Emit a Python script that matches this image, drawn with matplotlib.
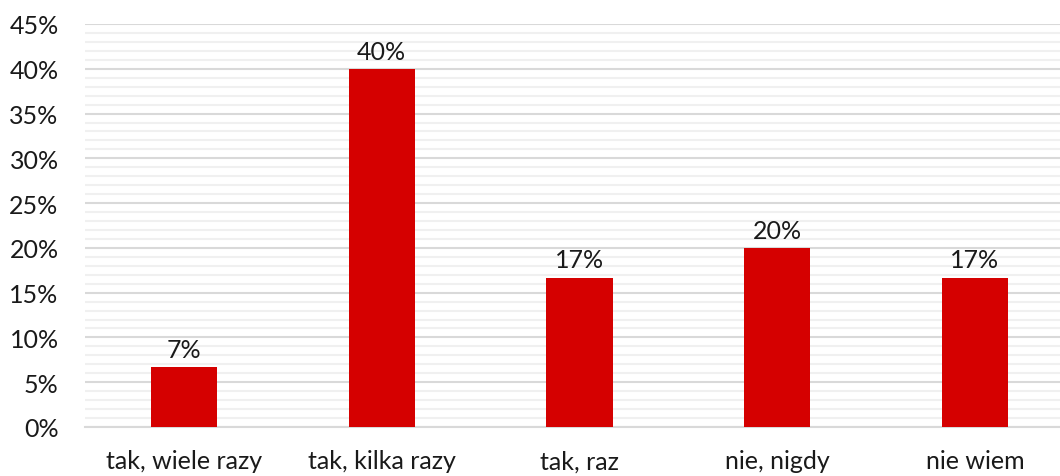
import numpy as np
import matplotlib.pyplot as plt
from matplotlib.ticker import MultipleLocator, FuncFormatter

categories = ["tak, wiele razy", "tak, kilka razy", "tak, raz", "nie, nigdy", "nie wiem"]
values = [6.67, 40.0, 16.67, 20.0, 16.67]

plt.rcParams['font.family'] = ['Lato', 'DejaVu Sans']

fig = plt.figure(figsize=(10.6, 4.77), dpi=100)
ax = fig.add_axes([85 / 1060, 1 - 428 / 477, 1 - 85 / 1060, (428 - 25) / 477])

x = np.arange(len(categories))
ax.bar(x, values, width=0.335, color='#D50000', zorder=3)

for xi, v in zip(x, values):
    ax.text(xi, v + 0.7, f"{v:.0f}%", ha='center', va='bottom', fontsize=18, color='#1a1a1a')

ax.set_ylim(0, 45)
ax.set_xlim(-0.5, 4.43)
ax.yaxis.set_major_locator(MultipleLocator(5))
ax.yaxis.set_minor_locator(MultipleLocator(1))
ax.yaxis.set_major_formatter(FuncFormatter(lambda v, p: f"{v:.0f}%"))
ax.grid(axis='y', which='major', color='#d9d9d9', linewidth=1.5, zorder=0)
ax.grid(axis='y', which='minor', color='#f0f0f0', linewidth=1.5, zorder=0)

ax.set_xticks(x)
ax.set_xticklabels(categories)
ax.tick_params(axis='both', which='both', length=0, labelsize=18, colors='#1a1a1a')
ax.tick_params(axis='x', pad=16)
ax.tick_params(axis='y', pad=19)

for side in ['top', 'right', 'left']:
    ax.spines[side].set_visible(False)
ax.spines['bottom'].set_color('#d9d9d9')
ax.spines['bottom'].set_linewidth(1.5)

fig.savefig('out.png', dpi=100)
